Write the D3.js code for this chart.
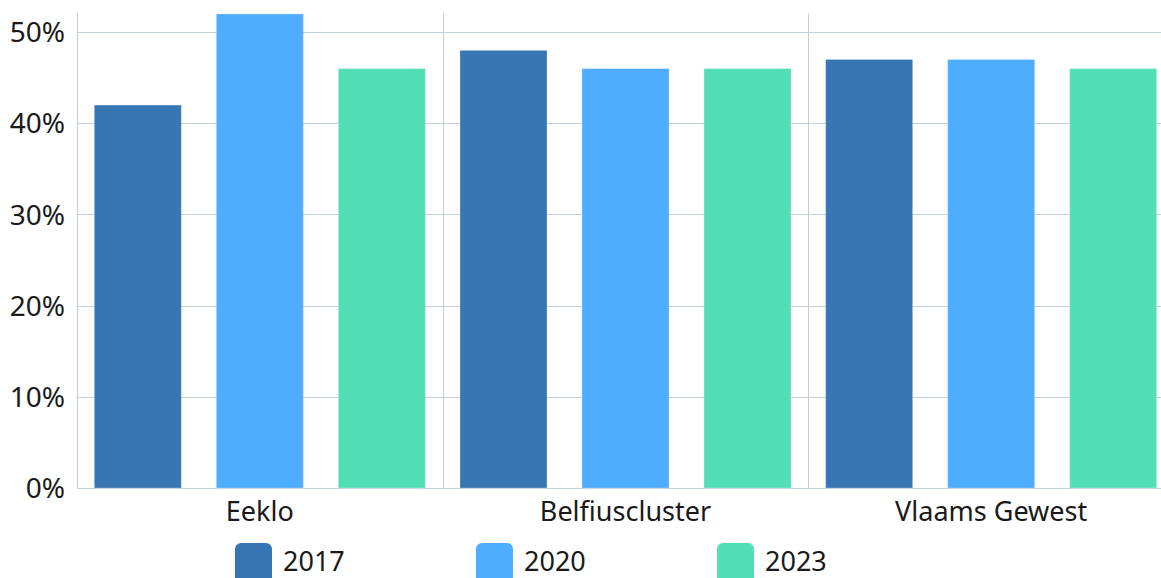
<!DOCTYPE html>
<html>
<head>
<meta charset="utf-8">
<script src="https://cdn.jsdelivr.net/npm/d3@7"></script>
<style>
  html, body { margin: 0; padding: 0; background: #fff; overflow: hidden; }
  svg { display: block; font-family: "Noto Sans", "Open Sans", sans-serif; }
</style>
</head>
<body>
<script>
const categories = ["Eeklo", "Belfiuscluster", "Vlaams Gewest"]
const years = ["2017", "2020", "2023"]
const values2017 = [42, 48, 47]
const values2020 = [52, 46, 47]
const values2023 = [46, 46, 46]
const yTicks = [0, 10, 20, 30, 40, 50]
const colors = ["#3776b3", "#4eadfe", "#53dfb4"]

const width = 1161
const height = 578
const margin = {top: 13, left: 77, bottom: 90}
const plotRight = 1174 // the plot runs a little past the window edge

const series = [values2017, values2020, values2023]
const rows = categories.map(function (c, i) {
  return {cat: c, vals: series.map(function (s, j) { return {year: years[j], v: s[i], k: j} })}
})

const svg = d3.select("body").append("svg")
    .attr("width", width)
    .attr("height", height)

const x0 = d3.scaleBand()
    .domain(categories)
    .range([margin.left, plotRight])

const x1 = d3.scaleBand()
    .domain(years)
    .range([0, x0.bandwidth()])
    .paddingInner(0.287)
    .paddingOuter(0.142)

const y = d3.scaleLinear()
    .domain([0, 52.1])
    .range([height - margin.bottom, margin.top])

// horizontal grid
svg.append("g")
  .selectAll("line")
  .data(yTicks)
  .enter().append("line")
    .attr("x1", margin.left)
    .attr("x2", plotRight)
    .attr("y1", function (d) { return Math.round(y(d)) + 0.5 })
    .attr("y2", function (d) { return Math.round(y(d)) + 0.5 })
    .style("stroke", "#c5cedb")
    .style("stroke-width", 1)

// vertical separators between groups + left axis
svg.append("g")
  .selectAll("line")
  .data(categories)
  .enter().append("line")
    .attr("x1", function (d) { return Math.round(x0(d)) + 0.5 })
    .attr("x2", function (d) { return Math.round(x0(d)) + 0.5 })
    .attr("y1", margin.top)
    .attr("y2", y(0))
    .style("stroke", "#c5cedb")

// y tick labels
svg.append("g")
  .selectAll("text")
  .data(yTicks)
  .enter().append("text")
    .attr("x", margin.left - 12)
    .attr("y", function (d) { return y(d) })
    .attr("dy", "0.36em")
    .attr("text-anchor", "end")
    .style("font-size", "28px")
    .style("fill", "#1a1a1a")
    .text(function (d) { return d + "%" })

// bars
const groups = svg.append("g")
  .selectAll("g")
  .data(rows)
  .enter().append("g")
    .attr("transform", function (d) { return `translate(${x0(d.cat)},0)` })

groups.selectAll("rect")
  .data(function (d) { return d.vals })
  .enter().append("rect")
    .attr("x", function (d) { return x1(d.year) })
    .attr("width", x1.bandwidth())
    .attr("y", function (d) { return y(d.v) })
    .attr("height", function (d) { return y(0) - y(d.v) })
    .style("fill", function (d) { return colors[d.k] })
    .style("stroke", "#ffffff")
    .style("stroke-opacity", 0.25)
    .style("stroke-width", 1)

// category labels
svg.append("g")
  .selectAll("text")
  .data(categories)
  .enter().append("text")
    .attr("x", function (d) { return x0(d) + x0.bandwidth() / 2 })
    .attr("y", y(0) + 33)
    .attr("text-anchor", "middle")
    .style("font-size", "27px")
    .style("fill", "#1a1a1a")
    .text(function (d) { return d })

// legend
const legend = svg.append("g")
  .selectAll("g")
  .data(years)
  .enter().append("g")
    .attr("transform", function (d, i) { return `translate(${235 + i * 241},543)` })

legend.append("rect")
    .attr("width", 37)
    .attr("height", 40)
    .attr("rx", 6)
    .style("fill", function (d, i) { return colors[i] })

legend.append("text")
    .attr("x", 48)
    .attr("y", 28)
    .style("font-size", "27px")
    .style("fill", "#1a1a1a")
    .text(function (d) { return d })
</script>
</body>
</html>
